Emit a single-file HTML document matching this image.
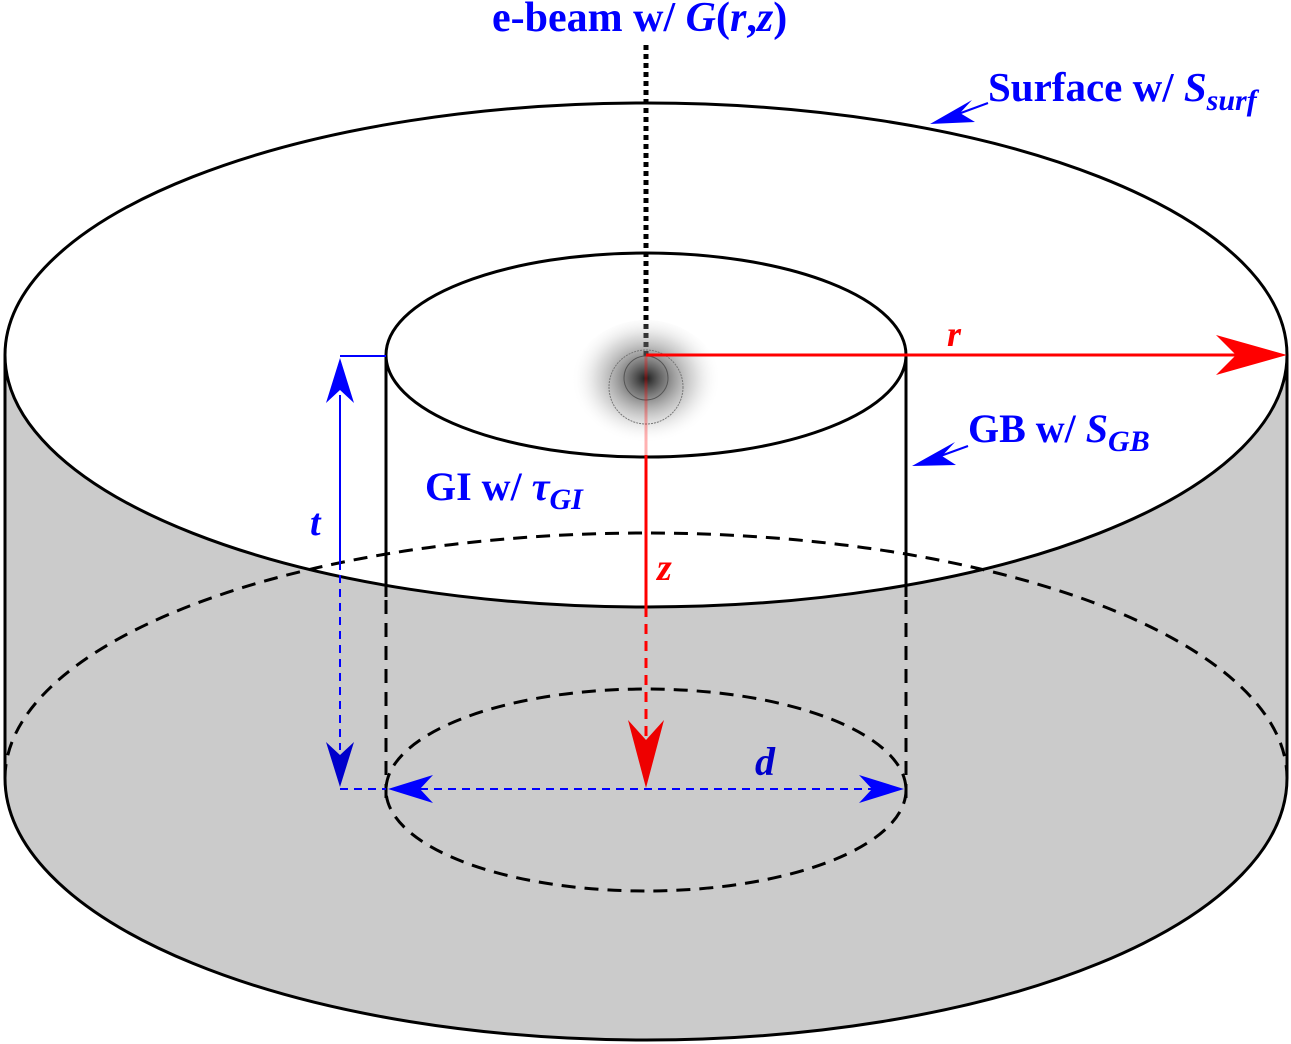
<!DOCTYPE html>
<html><head><style>html,body{margin:0;padding:0;background:#fff}svg{display:block}</style></head><body>
<svg width="1291" height="1044" viewBox="0 0 1291 1044" xmlns="http://www.w3.org/2000/svg">
<defs>
<radialGradient id="spot" cx="0.5" cy="0.45" r="0.5">
<stop offset="0" stop-color="#111" stop-opacity="0.95"/>
<stop offset="0.3" stop-color="#555" stop-opacity="0.7"/>
<stop offset="0.65" stop-color="#999" stop-opacity="0.35"/>
<stop offset="1" stop-color="#fff" stop-opacity="0"/>
</radialGradient>
</defs>
<path d="M5,355 A641,252 0 0 0 1287,355 L1287,778 A641,262 0 0 1 5,778 Z" fill="#cbcbcb"/>
<path d="M5,778 A641,245 0 0 1 1287,778" fill="none" stroke="#000" stroke-width="3" stroke-dasharray="14,9"/>
<path d="M5,778 A641,262 0 0 0 1287,778" fill="none" stroke="#000" stroke-width="3"/>
<ellipse cx="646" cy="790" rx="260" ry="101" fill="none" stroke="#000" stroke-width="3" stroke-dasharray="14,9"/>
<ellipse cx="646" cy="355" rx="641" ry="252" fill="none" stroke="#000" stroke-width="3"/>
<line x1="5" y1="355" x2="5" y2="778" stroke="#000" stroke-width="3"/>
<line x1="1287" y1="355" x2="1287" y2="778" stroke="#000" stroke-width="3"/>
<ellipse cx="646" cy="355" rx="260" ry="102" fill="none" stroke="#000" stroke-width="3"/>
<line x1="386" y1="355" x2="386" y2="597" stroke="#000" stroke-width="3"/>
<line x1="906" y1="355" x2="906" y2="597" stroke="#000" stroke-width="3"/>
<line x1="386" y1="600" x2="386" y2="805" stroke="#000" stroke-width="3" stroke-dasharray="14,9"/>
<line x1="906" y1="600" x2="906" y2="805" stroke="#000" stroke-width="3" stroke-dasharray="14,9"/>
<line x1="646" y1="45" x2="646" y2="356" stroke="#000" stroke-width="5" stroke-dasharray="5,4"/>
<ellipse cx="646" cy="385" rx="75" ry="65" fill="url(#spot)"/>
<circle cx="646" cy="387" r="37" fill="none" stroke="#777" stroke-width="1" stroke-dasharray="2,1"/>
<circle cx="646" cy="378" r="22" fill="none" stroke="#555" stroke-width="1"/>
<line x1="646" y1="355" x2="1245" y2="355" stroke="#f00" stroke-width="3"/>
<path d="M1287,355 L1216,335 L1236,355 L1216,375 Z" fill="#f00"/>
<text x="947" y="346" font-family="Liberation Serif,serif" font-style="italic" font-weight="bold" font-size="36" fill="#f00">r</text>
<line x1="646" y1="356" x2="646" y2="455" stroke="#f00" stroke-width="3" opacity="0.3"/>
<line x1="646" y1="455" x2="646" y2="607" stroke="#f00" stroke-width="3"/>
<line x1="646" y1="607" x2="646" y2="745" stroke="#f00" stroke-width="3" stroke-dasharray="10,7"/>
<path d="M646,788 L628,720 L646,740 L664,720 Z" fill="#e00"/>
<text x="657" y="580" font-family="Liberation Serif,serif" font-style="italic" font-weight="bold" font-size="38" fill="#f00">z</text>
<line x1="340" y1="356" x2="386" y2="356" stroke="#00f" stroke-width="2"/>
<line x1="340" y1="395" x2="340" y2="570" stroke="#00f" stroke-width="2"/>
<line x1="340" y1="575" x2="340" y2="750" stroke="#00f" stroke-width="2" stroke-dasharray="8,6"/>
<path d="M340,358 L326,403 L340,390 L354,403 Z" fill="#00f"/>
<path d="M340,787 L326,742 L340,755 L354,742 Z" fill="#00c"/>
<line x1="340" y1="789" x2="386" y2="789" stroke="#00f" stroke-width="2" stroke-dasharray="8,6"/>
<text x="310" y="535" font-family="Liberation Serif,serif" font-style="italic" font-weight="bold" font-size="38" fill="#00f">t</text>
<line x1="420" y1="789" x2="872" y2="789" stroke="#00f" stroke-width="2" stroke-dasharray="8,6"/>
<path d="M388,789 L433,775 L420,789 L433,803 Z" fill="#00f"/>
<path d="M904,789 L859,775 L872,789 L859,803 Z" fill="#00f"/>
<text x="755" y="775" font-family="Liberation Serif,serif" font-style="italic" font-weight="bold" font-size="40" fill="#00c">d</text>
<line x1="988" y1="103" x2="950" y2="117" stroke="#00f" stroke-width="2"/>
<path d="M930,124 L972,100 L960,113 L975,122 Z" fill="#00f"/>
<line x1="968" y1="446" x2="935" y2="458" stroke="#00f" stroke-width="2"/>
<path d="M912,466 L955,442 L942,456 L956,465 Z" fill="#00f"/>
<g font-family="Liberation Serif,serif" font-weight="bold" fill="#00f">
<text x="492" y="31" font-size="42">e-beam w/ <tspan font-style="italic">G</tspan>(<tspan font-style="italic">r</tspan>,<tspan font-style="italic">z</tspan>)</text>
<text x="988" y="101" font-size="41">Surface w/ <tspan font-style="italic">S</tspan><tspan font-style="italic" font-size="30" dy="9">surf</tspan></text>
<text x="968" y="442" font-size="40">GB w/ <tspan font-style="italic">S</tspan><tspan font-style="italic" font-size="30" dy="9">GB</tspan></text>
<text x="425" y="500" font-size="40">GI w/ <tspan font-style="italic">τ</tspan><tspan font-style="italic" font-size="30" dy="9">GI</tspan></text>
</g>
</svg>
</body></html>
